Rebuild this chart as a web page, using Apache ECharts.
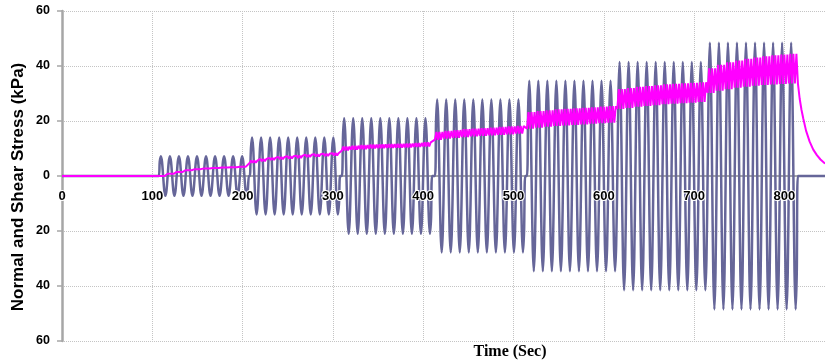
<!DOCTYPE html>
<html>
<head>
<meta charset="utf-8">
<script src="https://cdn.jsdelivr.net/npm/echarts@6/dist/echarts.min.js"></script>
<style>
  html, body { margin: 0; padding: 0; background: #fff; }
  #chart { width: 825px; height: 364px; }
</style>
</head>
<body>
<div id="chart"></div>
<script>
// loading stages (sec)
const stageStart = [107, 208, 310, 413, 515, 615, 715]
const cyclesPerStage = 10
const cyclePeriod = 10
const testEnd = 815
const timeMax = 845

// normal stress amplitude of each stage (kPa)
const normalAmp = [7.2, 14, 21, 27.8, 34.6, 41.5, 48.5]
// shape of one load cycle (fraction of period, fraction of amplitude)
const cyclePhase = [0, 0.125, 0.25, 0.375, 0.5, 0.625, 0.75, 0.875]
const cycleShape = [0, 0.72, 1, 0.72, 0, -0.72, -1, -0.72]

// shear stress band per loading cycle: lower / upper edge (kPa)
const shearLow = [
  [0.0, 0.8, 1.5, 2.1, 2.5, 2.7, 2.9, 3.1, 3.2, 3.4],
  [4.8, 5.4, 5.8, 6.1, 6.4, 6.6, 6.9, 7.1, 7.3, 7.5],
  [9.3, 9.6, 9.8, 10.0, 10.1, 10.2, 10.3, 10.4, 10.6, 10.8],
  [13.2, 13.6, 13.9, 14.2, 14.4, 14.6, 14.8, 15.0, 15.2, 15.4],
  [17.2, 17.6, 17.9, 18.2, 18.4, 18.6, 18.8, 19.0, 19.2, 19.4],
  [24.4, 24.8, 25.2, 25.5, 25.8, 26.1, 26.3, 26.5, 26.7, 26.9],
  [30.2, 31.0, 31.6, 32.1, 32.5, 32.8, 33.1, 33.3, 33.5, 33.7],
]
const shearHigh = [
  [0.3, 1.1, 1.8, 2.4, 2.8, 3.0, 3.2, 3.4, 3.5, 3.7],
  [5.6, 6.2, 6.6, 6.9, 7.2, 7.4, 7.7, 7.9, 8.1, 8.3],
  [10.7, 11.0, 11.2, 11.4, 11.5, 11.6, 11.7, 11.8, 12.0, 12.2],
  [16.0, 16.4, 16.7, 17.0, 17.2, 17.4, 17.6, 17.8, 18.0, 18.2],
  [23.2, 23.6, 23.9, 24.2, 24.4, 24.6, 24.8, 25.0, 25.2, 25.4],
  [31.6, 32.0, 32.4, 32.7, 33.0, 33.3, 33.5, 33.7, 33.9, 34.1],
  [39.2, 40.4, 41.3, 42.0, 42.6, 43.1, 43.5, 43.9, 44.2, 44.4],
]
// shear swings per load cycle, read from the streak spacing
const shearSwings = 3

// shear relaxation after unloading
const decayTime = [815, 817, 819, 821, 824, 828, 832, 836, 840, 845]
const decayShear = [33.7, 28, 24, 20.8, 16.5, 12.5, 9.6, 7.6, 6.0, 4.5]

const yTicks = [-60, -40, -20, 0, 20, 40, 60]

// build point lists from the readings above
const normalData = [[0, 0]]
const shearData = [[0, 0]]
stageStart.forEach((start, s) => {
  normalData.push([start, 0])
  for (let k = 0; k < cyclesPerStage; k++) {
    const t = start + k * cyclePeriod
    cyclePhase.forEach((p, i) => normalData.push([t + p * cyclePeriod, cycleShape[i] * normalAmp[s]]))
    const step = cyclePeriod / (2 * shearSwings)
    for (let j = 0; j < 2 * shearSwings; j++) {
      shearData.push([t + j * step, j % 2 ? shearHigh[s][k] : shearLow[s][k]])
    }
  }
  normalData.push([start + cyclesPerStage * cyclePeriod, 0])
})
normalData.push([testEnd, 0], [timeMax, 0])
decayTime.forEach((t, i) => shearData.push([t, decayShear[i]]))

const chart = echarts.init(document.getElementById("chart"), null, { renderer: "canvas" })

const tickFont = { color: "#000", fontFamily: "Liberation Sans", fontWeight: "bold" }

const option = {
  animation: false,
  grid: { left: 62, right: 0, top: 11, bottom: 23, containLabel: false },
  xAxis: [
    {
      // zero line and vertical grid, under the traces
      type: "value",
      position: "bottom",
      min: 0,
      max: timeMax,
      interval: 100,
      offset: -165,
      axisLine: { onZero: false, lineStyle: { color: "#a6a6a6", width: 2 } },
      axisTick: { show: false },
      axisLabel: { show: false },
      splitLine: { show: true, lineStyle: { color: "#c4c4c4", type: "dotted", width: 1 } },
    },
    {
      // tick labels, drawn over the traces
      type: "value",
      position: "bottom",
      min: 0,
      max: timeMax,
      interval: 100,
      offset: -165,
      z: 5,
      axisLine: { show: false, onZero: false },
      axisTick: { show: false },
      splitLine: { show: false },
      axisLabel: {
        ...tickFont,
        margin: 14,
        fontSize: 13,
        textBorderColor: "#fff",
        textBorderWidth: 2,
        showMaxLabel: false,
        formatter: (v) => (v % 100 === 0 ? String(v) : ""),
      },
    },
  ],
  yAxis: {
    type: "value",
    min: yTicks[0],
    max: yTicks[yTicks.length - 1],
    interval: 20,
    axisLine: { show: true, lineStyle: { color: "#a6a6a6", width: 2.5 } },
    axisTick: { show: true, length: 5, lineStyle: { color: "#a6a6a6", width: 1.5 } },
    axisLabel: {
      ...tickFont,
      margin: 12,
      fontSize: 12.5,
      formatter: (v) => String(Math.abs(v)),
    },
    splitLine: { show: true, lineStyle: { color: "#c4c4c4", type: "dotted", width: 1 } },
  },
  graphic: [
    {
      type: "text",
      x: 18,
      y: 187,
      rotation: Math.PI / 2,
      style: {
        text: "Normal and Shear Stress (kPa)",
        fill: "#000",
        font: "bold 17px 'Liberation Sans'",
        align: "center",
        verticalAlign: "middle",
      },
    },
    {
      type: "text",
      x: 510,
      y: 352,
      style: {
        text: "Time (Sec)",
        fill: "#000",
        font: "bold 16px 'Liberation Serif'",
        align: "center",
        verticalAlign: "middle",
      },
    },
  ],
  series: [
    {
      name: "Normal Stress",
      type: "line",
      xAxisIndex: 0,
      data: normalData,
      symbol: "none",
      smooth: 0.3,
      lineStyle: { color: "#666699", width: 2.5 },
      z: 2,
    },
    {
      name: "Shear Stress",
      type: "line",
      xAxisIndex: 0,
      data: shearData,
      symbol: "none",
      lineStyle: { color: "#ff00ff", width: 2 },
      z: 3,
    },
  ],
}

chart.setOption(option)
</script>
</body>
</html>
